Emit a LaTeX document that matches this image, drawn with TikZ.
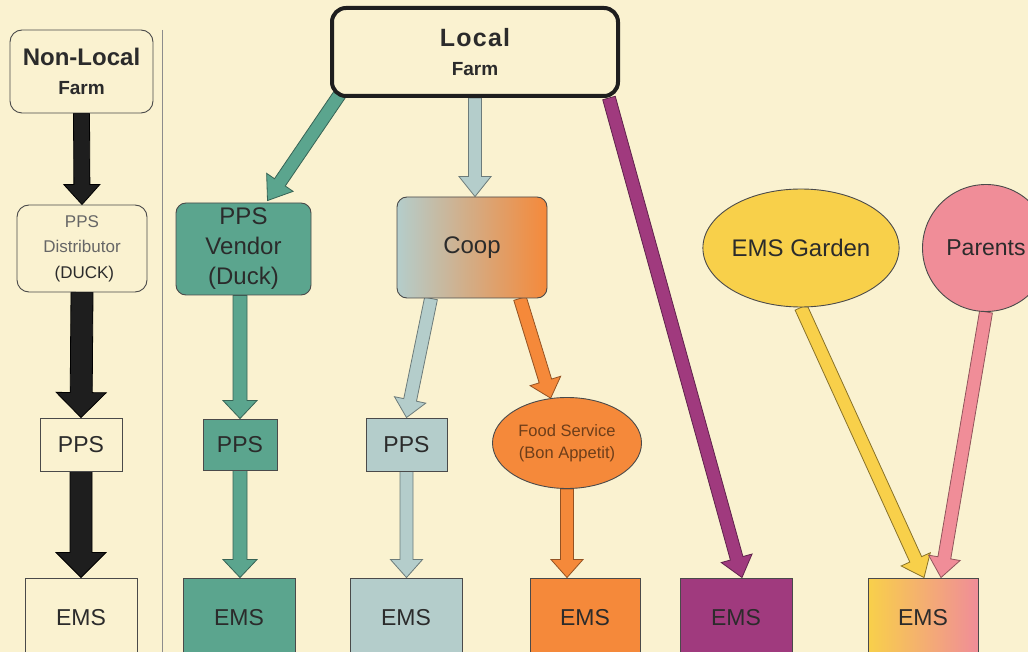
\documentclass[tikz,border=0pt]{standalone}
\usepackage{fontspec}
\setmainfont{Liberation Sans}
\usetikzlibrary{calc,shapes.geometric}
\definecolor{bgc}{HTML}{FAF2D0}
\definecolor{teal1}{HTML}{5BA58E}
\definecolor{lblue}{HTML}{B4CDCB}
\definecolor{orng}{HTML}{F5893A}
\definecolor{purp}{HTML}{A03A7E}
\definecolor{yel}{HTML}{F8D04A}
\definecolor{pnk}{HTML}{F08D98}
\definecolor{txt}{HTML}{2B2B2B}
\definecolor{edge}{HTML}{4A4A4A}
\definecolor{blk}{HTML}{1E1E1E}
\pgfdeclarelayer{bg}\pgfdeclarelayer{arr}\pgfsetlayers{bg,arr,main}
% fill, draw, start, end, shaft half, head half, head length
\newcommand\blockarr[7]{%
\coordinate (ba-s) at (#3);
\coordinate (ba-e) at (#4);
\coordinate (ba-h) at ($(ba-e)!#7!(ba-s)$);
\filldraw[fill=#1, draw=#2, line width=0.8pt, line join=miter]
 ($(ba-s)!#5!90:(ba-e)$) -- ($(ba-h)!#5!90:(ba-e)$) -- ($(ba-h)!#6!90:(ba-e)$) -- (ba-e)
 -- ($(ba-h)!#6!-90:(ba-e)$) -- ($(ba-h)!#5!-90:(ba-e)$) -- ($(ba-s)!#5!-90:(ba-e)$) -- cycle;}
\begin{document}
\begin{tikzpicture}[x=1pt,y=-1pt,
  box/.style={draw=edge, line width=0.9pt, text=txt, inner sep=0pt, align=center,
    font=\fontsize{23}{27}\selectfont},
  rbox/.style={box, rounded corners=10pt},
  ems/.style={box, minimum height=80, minimum width=112},
  oval/.style={box, ellipse}]
\begin{pgfonlayer}{bg}
\fill[bgc] (0,0) rectangle (1028,652);
\end{pgfonlayer}
\useasboundingbox (0,0) rectangle (1028,652);

\draw[black!45, line width=1pt] (162,30) -- (162,652);

% left column
\node[rbox, rounded corners=12pt, minimum width=143, minimum height=83] (nlf) at (81.5,71.5)
  {{\fontsize{24}{24}\selectfont\bfseries Non-Local}\\[2pt]{\fontsize{19}{19}\selectfont\bfseries Farm}};
\node[rbox, rounded corners=12pt, minimum width=130, minimum height=87,
  font=\fontsize{17}{25.5}\selectfont, text=black!60] (dist) at (82,248.5)
  {PPS\\Distributor\\\textcolor{txt}{\ (DUCK)}};
\node[box, minimum width=82, minimum height=53] (lpps) at (81,444.5) {PPS};
\node[ems] (lems) at (81,618) {EMS};

% local farm
\node[rbox, rounded corners=14pt, draw=blk, line width=4pt, minimum width=286, minimum height=88] (lf) at (475,52)
  {{\fontsize{25}{25}\selectfont\bfseries L\kern1.2pt o\kern1.2pt c\kern1.2pt a\kern1.2pt l}\\[2pt]{\fontsize{19}{19}\selectfont\bfseries Farm}};

\node[rbox, fill=teal1, minimum width=135, minimum height=92, font=\fontsize{24}{30}\selectfont] (vendor) at (243.5,249)
  {PPS\\Vendor\\(Duck)};
\node[rbox, left color=lblue, right color=orng, minimum width=150, minimum height=101, font=\fontsize{24}{30}\selectfont] (coop) at (472,247.5) {Coop};

\node[box, fill=teal1, minimum width=74, minimum height=51] (tpps) at (240,444.5) {PPS};
\node[box, fill=lblue, minimum width=81, minimum height=53] (bpps) at (406.5,444.5) {PPS};
\node[oval, fill=orng, minimum width=149, minimum height=91, font=\fontsize{16.5}{22}\selectfont, text=black!55!orng] (food) at (567,443)
  {Food Service\\(Bon Appetit)};

\node[oval, fill=yel, minimum width=173, minimum height=118, font=\fontsize{24}{28}\selectfont] (garden) at (801,248) {EMS Garden};
\node[oval, fill=pnk, minimum width=127, minimum height=127] (parents) at (986,248) {Parents};

\node[ems, fill=teal1] (tems) at (239,618) {EMS};
\node[ems, fill=lblue] (bems) at (406,618) {EMS};
\node[ems, fill=orng, minimum width=110] (oems) at (585,618) {EMS};
\node[ems, fill=purp, minimum width=112] (pems) at (736,618) {EMS};
\node[ems, left color=yel, right color=pnk, minimum width=110] (yems) at (923,618) {EMS};

\begin{pgfonlayer}{arr}
\blockarr{blk}{black}{nlf.south}{dist.north}{8pt}{18pt}{20pt}
\blockarr{blk}{black}{dist.south}{lpps.north}{11pt}{25pt}{25pt}
\blockarr{blk}{black}{lpps.south}{lems.north}{11pt}{25pt}{25pt}

\blockarr{teal1}{teal1!60!black}{$(lf.south west)+(10,-4)$}{$(vendor.north)+(24,-2)$}{6.5pt}{16pt}{22pt}
\blockarr{lblue}{lblue!60!black}{lf.south}{coop.north -| lf.south}{6.5pt}{16pt}{20pt}
\blockarr{purp}{purp!60!black}{$(lf.south east)+(-11,0)$}{$(pems.north)+(6,0)$}{6.5pt}{16pt}{20pt}

\blockarr{teal1}{teal1!60!black}{vendor.south -| tpps.north}{tpps.north}{7pt}{17pt}{18pt}
\blockarr{teal1}{teal1!60!black}{tpps.south}{tems.north -| tpps.south}{7pt}{17pt}{18pt}

\blockarr{lblue}{lblue!60!black}{$(coop.south)+(-41,0)$}{bpps.north}{6.5pt}{16pt}{18pt}
\blockarr{lblue}{lblue!60!black}{bpps.south}{bems.north -| bpps.south}{6.5pt}{16pt}{18pt}

\blockarr{orng}{orng!60!black}{$(coop.south)+(48,0)$}{food.110}{6.5pt}{16pt}{18pt}
\blockarr{orng}{orng!60!black}{food.south}{oems.north -| food.south}{6.5pt}{16pt}{18pt}

\blockarr{yel}{yel!55!black}{garden.south}{$(yems.north)+(1,0)$}{6.5pt}{16pt}{20pt}
\blockarr{pnk}{pnk!60!black}{parents.south}{$(yems.north)+(18,0)$}{6.5pt}{16pt}{20pt}
\end{pgfonlayer}
\end{tikzpicture}
\end{document}
